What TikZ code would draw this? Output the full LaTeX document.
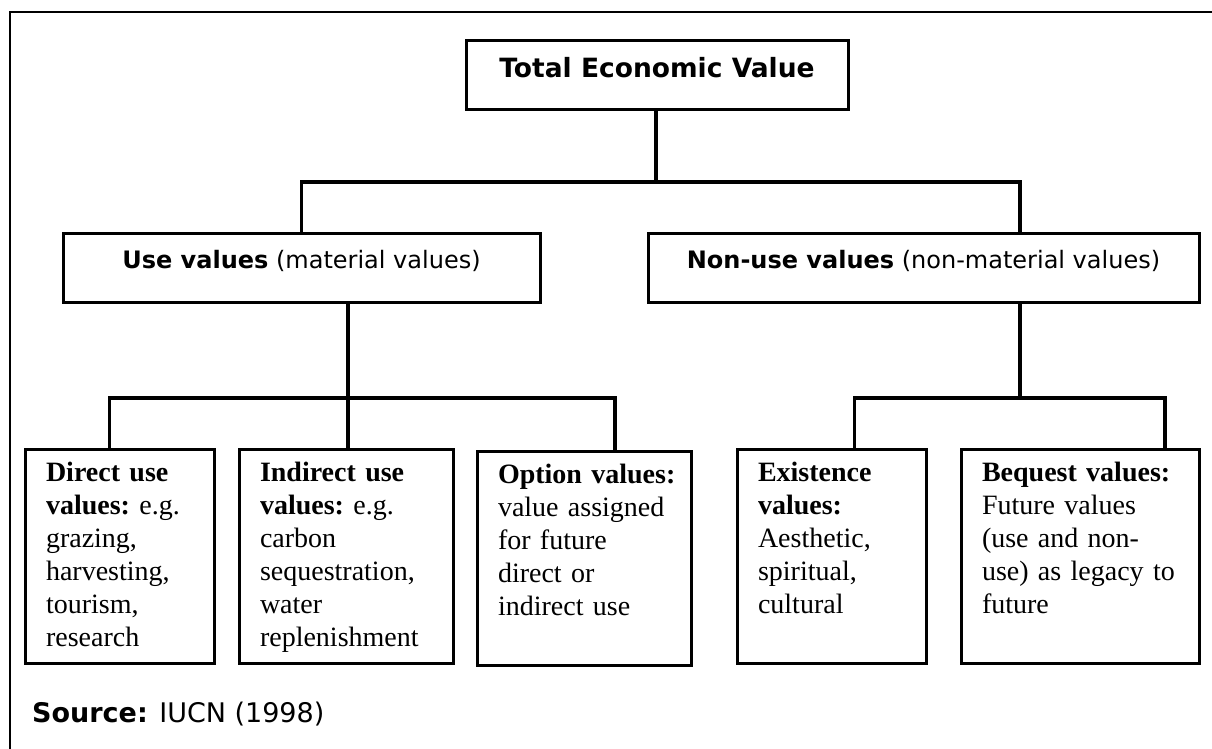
\documentclass[tikz,border=0pt]{standalone}
\usepackage{fontspec}
\setsansfont{DejaVu Sans}
\newfontfamily\leafserif{Liberation Serif}
\usetikzlibrary{positioning,calc}

\newcommand{\leaffont}{\leafserif\fontsize{28}{33}\selectfont\hyphenpenalty=10000\relax}

\tikzset{
  frame/.style={line width=2pt},
  headbox/.style={draw, line width=3pt, anchor=north west, inner sep=0pt,
    font=\sffamily\fontsize{26.5}{32}\selectfont},
  midbox/.style={draw, line width=3pt, anchor=north west, inner sep=0pt,
    font=\sffamily\fontsize{24}{29}\selectfont, text height=35.5pt, text depth=33.5pt},
  leafbox/.style={draw, line width=3pt, anchor=north west, inner xsep=21pt, inner ysep=0pt,
    align=left, font=\leaffont, text height=32.5pt, text depth=181.5pt},
  link/.style={line width=3.5pt},
}

\begin{document}
\begin{tikzpicture}[x=1pt, y=-1pt]
    \useasboundingbox (0,0) rectangle (1212,749);
    \draw[frame] (1212,12) -- (10,12) -- (10,749);

    % Top level
    \node[headbox, minimum width=382pt, text height=36.5pt, text depth=32.5pt] (tev) at (464.5,39.5) {\textbf{Total Economic Value}};

    % Second level
    \node[midbox, minimum width=477pt] (use) at (61.5,231.5) {\textbf{Use values} (material values)};
    \node[midbox, minimum width=551pt] (nonuse) at (646.5,231.5) {\textbf{Non-use values} (non-material values)};

    % Leaves
    \node[leafbox, text width=147pt] (direct) at (23.5,447.5)
        {\textbf{Direct~use}\\ \textbf{values:}~e.g.\\ grazing,\\ harvesting,\\ tourism,\\ research};
    \node[leafbox, text width=172pt] (indirect) at (237.5,447.5)
        {\textbf{Indirect~use}\\ \textbf{values:}~e.g.\\ carbon\\ sequestration,\\ water\\ replenishment};
    \node[leafbox, text width=172pt] (option) at (475.5,449.5)
        {\textbf{Option~values:}\\ value~assigned\\ for~future\\ direct~or\\ indirect~use};
    \node[leafbox, text width=147pt] (exist) at (735.5,447.5)
        {\textbf{Existence}\\ \textbf{values:}\\ Aesthetic,\\ spiritual,\\ cultural};
    \node[leafbox, text width=196pt] (bequest) at (959.5,447.5)
        {\textbf{Bequest~values:}\\ Future~values\\ (use~and~non-\\ use)~as~legacy~to\\ future};

    % Junctions
    \coordinate (j1) at (656,182);
    \coordinate (j2) at (348,398);
    \coordinate (j3) at (1020,398);

    \draw[link] (tev.south -| j1) -- (j1);
    \draw[link] (use.north) |- (j1) -| (nonuse.north -| j3);

    \draw[link] (use.south -| j2) -- (j2);
    \draw[link] ([xshift=-10pt]direct.north) |- (j2) -| ([xshift=31pt]option.north);
    \draw[link] (j2) -- (j2 |- indirect.north);

    \draw[link] (nonuse.south -| j3) -- (j3);
    \draw[link] ([xshift=23pt]exist.north) |- (j3) -| ([xshift=85pt]bequest.north);

    \node[anchor=base west, inner sep=0pt, font=\sffamily\fontsize{27}{32}\selectfont] (source) at (32,722) {\textbf{Source:} IUCN (1998)};
\end{tikzpicture}
\end{document}
